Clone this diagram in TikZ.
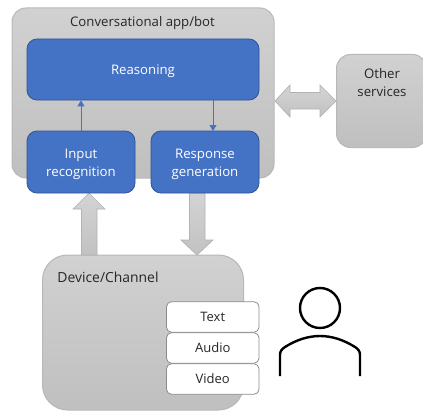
\documentclass[tikz,border=0pt]{standalone}
\usepackage{fontspec}
\setmainfont{Open Sans}
\usetikzlibrary{arrows.meta}
\definecolor{blueb}{HTML}{4472C4}
\definecolor{blueline}{HTML}{2F5597}
\tikzset{
  x=1pt,y=-1pt,
  graybox/.style={rounded corners=#1,draw=black!28,line width=1pt,top color=black!18,bottom color=black!25,inner sep=0pt},
  bluebox/.style={rounded corners=10pt,draw=blueline,line width=.8pt,fill=blueb,inner sep=0pt},
  bluelab/.style={text=white,font=\fontsize{13.2}{18.6}\selectfont,align=center,inner sep=0pt},
  whitebox/.style={rounded corners=5pt,draw=black!45,line width=.8pt,fill=white,text=black!85,font=\fontsize{13}{17}\selectfont,inner sep=0pt,minimum width=92.5pt,minimum height=30.5pt},
  lab/.style={text=black!85,font=\fontsize{13.2}{18}\selectfont,align=center,inner sep=0pt},
  thin arrow/.style={draw=blueb,line width=.9pt,-{Triangle[length=6pt,width=7pt]}},
  block/.style={draw=black!30,line width=.7pt,top color=black!17,bottom color=black!24},
  person/.style={line width=2.4pt,draw=black},
}
\begin{document}
\begin{tikzpicture}
\useasboundingbox (0,0) rectangle (423,412);
% outer containers
\node[graybox=14pt,minimum width=262pt,minimum height=170pt] (app) at (143,93) {};
\node[graybox=14pt,minimum width=90pt,minimum height=93pt,anchor=north west] (other) at (336,54) {};
\node[graybox=25pt,minimum width=201pt,minimum height=155pt] (device) at (143,332.5) {};
% block arrows
\draw[block] (275,101) -- (290,85) -- (290,92.5) -- (320,92.5) -- (320,85) -- (336,101) -- (320,117) -- (320,109) -- (290,109) -- (290,117) -- cycle;
\draw[block] (89,193) -- (105,209) -- (97,209) -- (97,255) -- (81.5,255) -- (81.5,209) -- (73,209) -- cycle;
\draw[block] (189.5,193) -- (205,193) -- (205,240) -- (213,240) -- (197,255) -- (181,240) -- (189.5,240) -- cycle;
% blue boxes
\node[bluebox,minimum width=232pt,minimum height=61pt] (reason) at (143,69.5) {};
\node[bluebox,minimum width=108pt,minimum height=62pt] (input) at (81,162) {};
\node[bluebox,minimum width=108pt,minimum height=62pt] (resp) at (205,162) {};
\node[bluelab] (reasonlab) at (143,71) {Reasoning};
\node[bluelab] (inputlab) at (81,164.5) {Input\\recognition};
\node[bluelab] (resplab) at (205,164.5) {Response\\generation};
\coordinate (respin) at (213,131);
\draw[thin arrow] (input.north) -- (input.north |- reason.south);
\draw[thin arrow] (reason.south -| respin) -- (respin);
% labels
\node[lab] (applab) at (142.5,23.5) {Conversational app/bot};
\node[lab] (otherlab) at (382,82.5) {Other\\services};
\node[lab,font=\fontsize{13.9}{18}\selectfont] (devlab) at (108,277.5) {Device/Channel};
% channel boxes
\node[whitebox] (text) at (212.75,317) {Text};
\node[whitebox] (audio) at (212.75,348) {Audio};
\node[whitebox] (video) at (212.75,379) {Video};
% person
\draw[person] (320,308) circle (20);
\draw[person] (280,376) -- (280,355) .. controls (280,351) and (282,349) .. (285,347) .. controls (296,340) and (308,336) .. (320,336) .. controls (332,336) and (344,340) .. (355,347) .. controls (358,349) and (360,351) .. (360,355) -- (360,376);
\end{tikzpicture}
\end{document}
